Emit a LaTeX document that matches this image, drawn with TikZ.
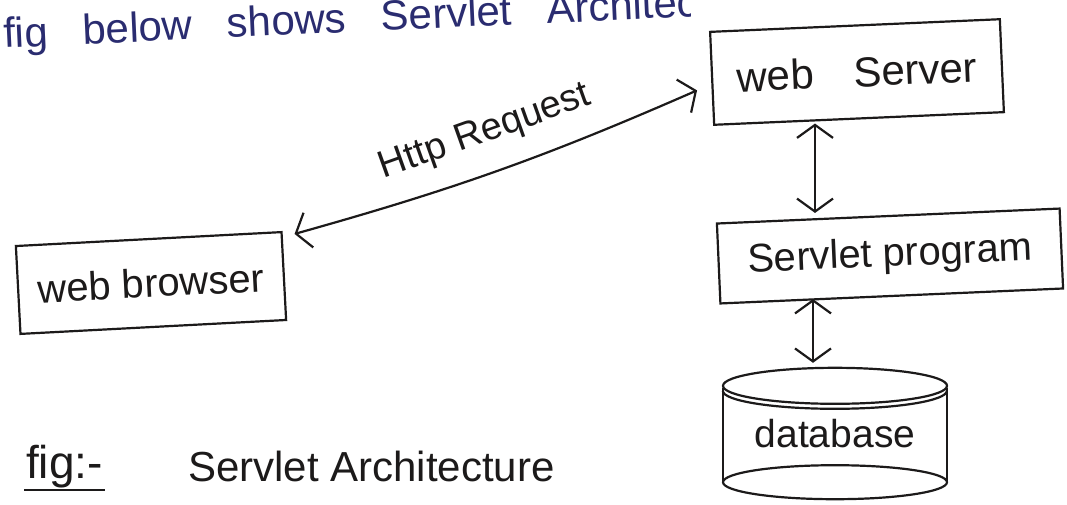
\documentclass[tikz,border=0pt]{standalone}
\usepackage{fontspec}
\setmainfont{Liberation Sans}
\newfontfamily\widespaced[WordSpace=3]{Liberation Sans}
\usetikzlibrary{arrows.meta,calc}
\definecolor{ink}{RGB}{28,26,26}
\definecolor{blueink}{RGB}{42,44,112}
\begin{document}
\begin{tikzpicture}[x=1pt,y=-1pt,
  box/.style={draw=ink, line width=2.2pt, inner sep=0pt, text=ink,
    font=\fontsize{40}{44}\selectfont},
  link/.style={draw=ink, line width=2.2pt,
    {Straight Barb[length=13pt,width=36pt]}-{Straight Barb[length=13pt,width=36pt]}},
  label/.style={text=ink, inner sep=2pt},
]
\useasboundingbox (0,0) rectangle (1067,504);
\fill[white] (0,0) rectangle (1067,504);

% heading line running off the top of the sheet
\begin{scope}
  \clip (0,0) rectangle (690,504);
  \node[anchor=base west, rotate=2.6, text=blueink, inner sep=0pt,
    font=\widespaced\fontsize{42}{46}\selectfont]
    (heading) at (4,48) {fig below shows Servlet Architecture};
\end{scope}

% boxes
\node[box, rotate=2.5, minimum width=290pt, minimum height=93pt,
  font=\fontsize{42}{46}\selectfont] (server) at (857,72) {web\hspace{40pt}Server};
\node[box, rotate=2.5, minimum width=343pt, minimum height=80pt] (servlet) at (890,256) {Servlet program};
\node[box, rotate=3, minimum width=266pt, minimum height=88pt] (browser) at (151,283) {web browser};

% database cylinder
\node[label, font=\fontsize{39}{43}\selectfont, minimum width=224pt, minimum height=132pt, inner sep=0pt]
  (db) at (835,434) {database};
\begin{scope}[draw=ink, line width=2.2pt]
  \draw ($(db.north)+(0,18)$) ellipse [x radius=112pt, y radius=18pt];
  \draw ([yshift=-23pt]db.north west) arc [start angle=180, end angle=360, x radius=112pt, y radius=18pt];
  \draw ($(db.north west)+(0,20)$) -- ($(db.south west)+(0,-18)$);
  \draw ($(db.north east)+(0,20)$) -- ($(db.south east)+(0,-18)$);
  \draw ($(db.south)+(0,-18)$) ellipse [x radius=112pt, y radius=17pt];
\end{scope}

% connectors
\coordinate (colA) at (815,0);
\coordinate (colB) at (813,0);
\draw[link, shorten <=4pt, shorten >=2pt] (server.south -| colA) -- (servlet.north -| colA);
\draw[link, shorten <=2pt, shorten >=5pt] (servlet.south -| colB) -- (db.north -| colB);
\draw[link] ([xshift=12pt,yshift=-3pt]browser.north east)
  to[bend right=4]
  node[label, pos=0.5, sloped, above=20pt, font=\fontsize{38}{42}\selectfont] (req) {Http Request}
  ([xshift=-14pt,yshift=-12pt]server.west);

% caption
\node[label, anchor=base west, inner sep=2pt, font=\fontsize{46}{50}\selectfont] (figtag) at (24,478) {fig:-};
\draw[draw=ink, line width=2.2pt] (figtag.south west) -- (figtag.south east);
\node[label, anchor=base west, font=\fontsize{42}{46}\selectfont] (caption) at (186,481) {Servlet Architecture};
\end{tikzpicture}
\end{document}
